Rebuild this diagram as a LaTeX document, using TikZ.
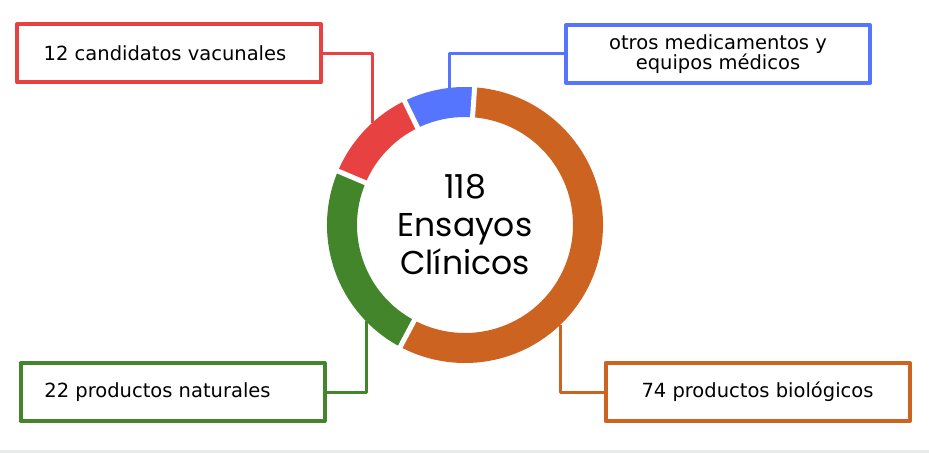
\documentclass[tikz,border=0pt]{standalone}
\usepackage{fontspec}
\setmainfont{DejaVu Sans}
\newfontfamily\centerfont{Poppins}
\definecolor{vacred}{HTML}{E84142}
\definecolor{medblue}{HTML}{5575FF}
\definecolor{natgreen}{HTML}{43852B}
\definecolor{bioorange}{HTML}{CC6320}
\definecolor{bargray}{HTML}{E9ECEF}
\begin{document}
\begin{tikzpicture}[x=1pt, y=1pt, line join=round, font=\fontsize{19.5}{20}\selectfont,
	labelbox/.style={draw=#1, line width=4pt, fill=white, minimum width=304pt, minimum height=58pt, align=center, inner sep=0pt},
	leader/.style={draw=#1, line width=3pt}]
	\useasboundingbox (0,0) rectangle (929,453);
	\fill[bargray] (0,0) rectangle (929,3);
	\path 
	(465,228) coordinate (C)
	(372,330) coordinate (vacEnd)
	(449,365) coordinate (medEnd)
	(366,132) coordinate (natEnd)
	(560,128) coordinate (bioEnd);
	% label boxes
	\node[labelbox=vacred] (vac) at (169,399.5) {12 candidatos vacunales\hspace{8pt}};
	\node[labelbox=medblue] (med) at (718,399) {otros medicamentos y\hspace{10pt}\\equipos médicos\hspace{10pt}};
	\node[labelbox=natgreen] (nat) at (172.5,61) {22 productos naturales\hspace{30pt}};
	\node[labelbox=bioorange] (bio) at (757.5,61) {74 productos biológicos};
	% leaders
	\draw[leader=vacred] (vac.east) -| (vacEnd);
	\draw[leader=medblue] (med.west) -| (medEnd);
	\draw[leader=natgreen] (nat.east) -| (natEnd);
	\draw[leader=bioorange] (bio.west) -| (bioEnd);
	% ring
	\foreach \a/\b/\c in {86/-118/bioorange, -118/-203/natgreen, 157/116/vacred, 116/86/medblue}{
		\fill[\c] ([shift={(\a:138)}]C) arc[start angle=\a, end angle=\b, radius=138] -- ([shift={(\b:108)}]C) arc[start angle=\b, end angle=\a, radius=108] -- cycle;
	}
	\foreach \a in {86,-118,157,116}{\draw[white, line width=5pt] ([shift={(\a:100)}]C) -- ([shift={(\a:146)}]C);}
	\node[font=\centerfont\fontsize{33}{38}\selectfont, align=center] (total) at (C) {118\\Ensayos\\Clínicos};
\end{tikzpicture}
\end{document}
